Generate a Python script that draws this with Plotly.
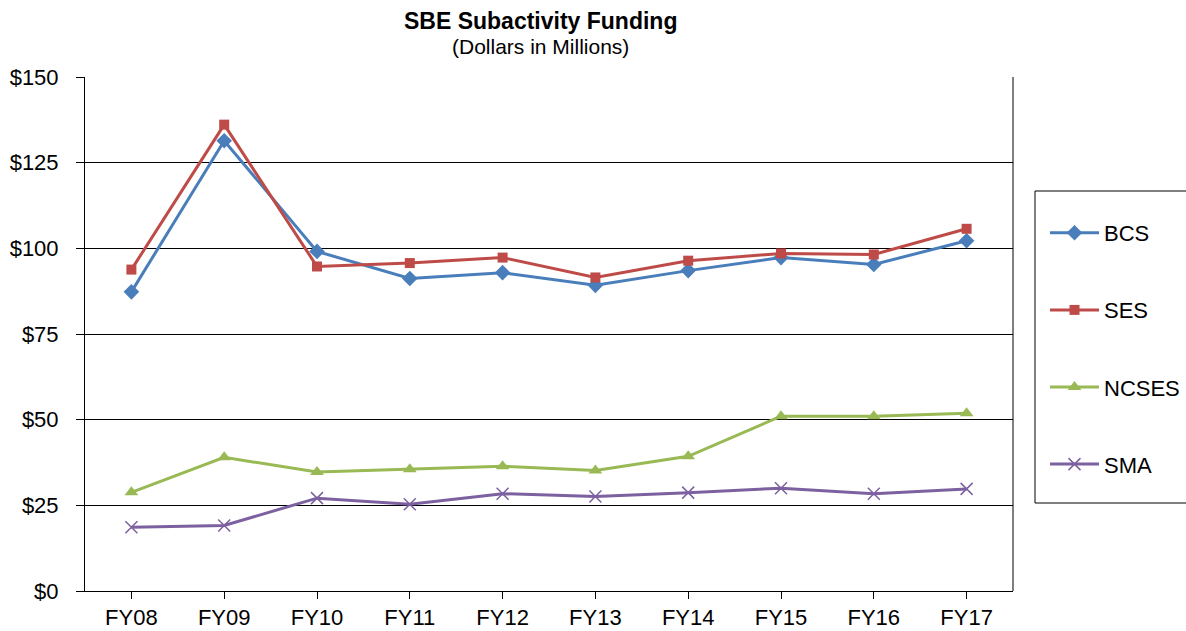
import plotly.graph_objects as go

years = ["FY08", "FY09", "FY10", "FY11", "FY12", "FY13", "FY14", "FY15", "FY16", "FY17"]
bcs = [87.3, 131.4, 99.1, 91.2, 92.9, 89.2, 93.5, 97.3, 95.3, 102.2]
ses = [93.8, 136.1, 94.7, 95.7, 97.3, 91.5, 96.4, 98.5, 98.2, 105.7]
ncses = [28.8, 39.0, 34.7, 35.5, 36.4, 35.2, 39.3, 51.0, 51.0, 51.9]
sma = [18.6, 19.1, 27.1, 25.3, 28.4, 27.6, 28.7, 30.0, 28.4, 29.8]
tickvals = [0, 25, 50, 75, 100, 125, 150]
ticktext = ["$0", "$25", "$50", "$75", "$100", "$125", "$150"]

series = [
    ("BCS", bcs, "#4A7EBB", dict(symbol="diamond", size=12)),
    ("SES", ses, "#BE4B48", dict(symbol="square", size=10)),
    ("NCSES", ncses, "#98B954", dict(symbol="triangle-up", size=12)),
    ("SMA", sma, "#7D60A0", dict(symbol="x-thin", size=12)),
]

fig = go.Figure()
for name, vals, color, mk in series:
    m = dict(color=color, **mk)
    if mk["symbol"] == "x-thin":
        m["line"] = dict(color=color, width=1.5)
    fig.add_trace(go.Scatter(
        x=years, y=vals, name=name, mode="lines+markers",
        line=dict(color=color, width=3), marker=m,
        legendgroup=name,
    ))

font_family = "Liberation Sans, Arial, sans-serif"
fig.update_layout(
    width=1186, height=631,
    margin=dict(l=85, r=173, t=77, b=40, autoexpand=False),
    paper_bgcolor="white", plot_bgcolor="white",
    font=dict(family=font_family, color="black", size=22),
    showlegend=True,
    legend=dict(
        x=(1045 - 85) / 928, xanchor="left", y=(591 - 212) / 514, yanchor="top",
        borderwidth=0, bgcolor="rgba(0,0,0,0)",
        font=dict(size=22, family=font_family), tracegroupgap=45.5, itemwidth=49,
    ),
    xaxis=dict(
        range=[-0.5, 9.5], showline=True, linecolor="black", linewidth=1,
        ticks="outside", ticklen=7, tickcolor="black",
        showgrid=False, automargin=False, tickfont=dict(size=22),
    ),
    yaxis=dict(
        range=[0, 150], tickvals=tickvals, ticktext=ticktext,
        showline=True, linecolor="black", linewidth=1,
        ticks="outside", ticklen=8, tickcolor="black",
        showgrid=True, gridcolor="black", gridwidth=1, zeroline=False,
        automargin=False, tickfont=dict(size=22), ticklabelstandoff=13,
    ),
    annotations=[
        dict(text="<b>SBE Subactivity Funding</b>", xref="paper", yref="paper",
             x=(540 - 85) / 928, y=(591 - 21) / 514, xanchor="center", yanchor="middle",
             showarrow=False, font=dict(size=23, family=font_family)),
        dict(text="(Dollars in Millions)", xref="paper", yref="paper",
             x=(540 - 85) / 928, y=(591 - 47) / 514, xanchor="center", yanchor="middle",
             showarrow=False, font=dict(size=21, family=font_family)),
    ],
    shapes=[
        dict(type="line", xref="paper", yref="paper", x0=1, x1=1, y0=0, y1=1,
             line=dict(color="black", width=1)),
        dict(type="rect", xref="paper", yref="paper",
             x0=(1035 - 85) / 928, x1=(1190 - 85) / 928,
             y0=(591 - 503) / 514, y1=(591 - 191) / 514,
             line=dict(color="black", width=1), fillcolor="rgba(0,0,0,0)", layer="above"),
    ],
)

fig.write_html("out.html", config={"displayModeBar": False},
               post_script="document.body.style.margin='0';")
